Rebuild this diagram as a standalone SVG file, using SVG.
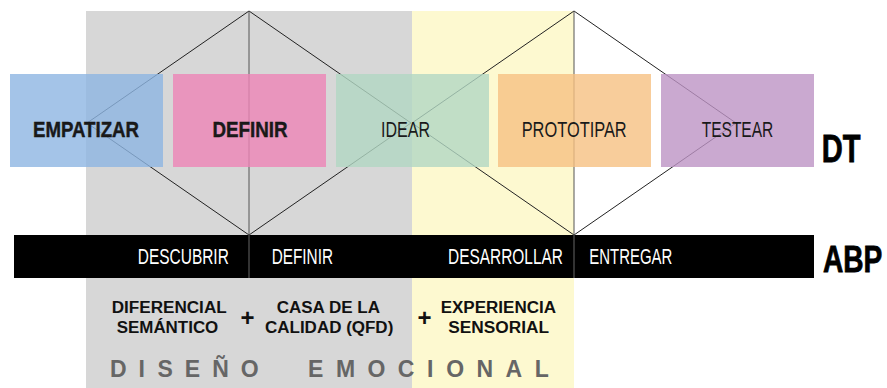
<svg xmlns="http://www.w3.org/2000/svg" width="887" height="388" viewBox="0 0 887 388">
<style>
.box{fill-opacity:0.8}
.lbl{font-family:"Liberation Sans Narrow","Liberation Sans",Arial,sans-serif;font-size:22px;fill:#1a1a1a}
.b{font-weight:bold;stroke:#111;stroke-width:0.4}
.bar{font-family:"Liberation Sans",Arial,sans-serif;font-size:22px;fill:#ffffff}
.big{font-family:"Liberation Sans",Arial,sans-serif;font-weight:bold;fill:#000;stroke:#000;stroke-width:0.8}
.tool{font-family:"Liberation Sans",Arial,sans-serif;font-size:16px;font-weight:bold;fill:#111}
.plus{font-family:"Liberation Sans",Arial,sans-serif;font-size:24px;font-weight:bold;fill:#111;text-anchor:middle}
.de{font-family:"Liberation Sans",Arial,sans-serif;font-size:23px;font-weight:bold;fill:#666}
.dia{fill:none;stroke:#222;stroke-width:1}
.vert{stroke:#555;stroke-width:1}
</style>
<rect width="887" height="388" fill="#ffffff"/>
<g id="zona-diseno-emocional">
<rect x="86" y="11" width="326" height="377" fill="#d7d7d7"/>
<rect x="412" y="11" width="162" height="377" fill="#fdf9d0"/>
</g>
<g id="connectors">
<polygon class="dia" points="249,11 411,123 249,235 87,123"/>
<polygon class="dia" points="574,11 736,123 574,235 412,123"/>
<line class="vert" x1="249" y1="11" x2="249" y2="235"/>
<line class="vert" x1="574" y1="11" x2="574" y2="235"/>
</g>
<g id="empatizar">
<rect class="box" x="10" y="74" width="153" height="93" fill="#8db5e2"/>
<text class="lbl b" x="33" y="137" textLength="106" lengthAdjust="spacingAndGlyphs">EMPATIZAR</text>
</g>
<g id="definir">
<rect class="box" x="173" y="74" width="153" height="93" fill="#ed85b6"/>
<text class="lbl b" x="212.5" y="137" textLength="75" lengthAdjust="spacingAndGlyphs">DEFINIR</text>
</g>
<g id="idear">
<rect class="box" x="336" y="74" width="153" height="93" fill="#b2d7c3"/>
<text class="lbl" x="381" y="137" textLength="49" lengthAdjust="spacingAndGlyphs">IDEAR</text>
</g>
<g id="prototipar">
<rect class="box" x="498" y="74" width="153" height="93" fill="#f6c182"/>
<text class="lbl" x="521.7" y="137" textLength="105" lengthAdjust="spacingAndGlyphs">PROTOTIPAR</text>
</g>
<g id="testear">
<rect class="box" x="661" y="74" width="153" height="93" fill="#bd94c4"/>
<text class="lbl" x="701.7" y="137" textLength="71.6" lengthAdjust="spacingAndGlyphs">TESTEAR</text>
</g>
<g id="dt">
<text class="big" transform="translate(821.7,162) scale(0.737,1)" x="0" y="0" font-size="39.5">DT</text>
</g>
<g id="abp-bar">
<rect x="14" y="235" width="800" height="43" fill="#000000"/>
<line x1="249" y1="235" x2="249" y2="278" stroke="#666" stroke-width="1"/>
<line x1="574" y1="235" x2="574" y2="278" stroke="#666" stroke-width="1"/>
<text class="bar" transform="translate(137.8,264) scale(0.7,1)" x="0" y="0" textLength="130" lengthAdjust="spacingAndGlyphs">DESCUBRIR</text>
<text class="bar" transform="translate(271.7,264) scale(0.7,1)" x="0" y="0" textLength="87.6" lengthAdjust="spacingAndGlyphs">DEFINIR</text>
<text class="bar" transform="translate(448,264) scale(0.7,1)" x="0" y="0" textLength="164.3" lengthAdjust="spacingAndGlyphs">DESARROLLAR</text>
<text class="bar" transform="translate(589.3,264) scale(0.7,1)" x="0" y="0" textLength="118.6" lengthAdjust="spacingAndGlyphs">ENTREGAR</text>
</g>
<g id="abp">
<text class="big" transform="translate(823,272) scale(0.75,1)" x="0" y="0" font-size="37.5">ABP</text>
</g>
<g id="diferencial-semantico">
<text class="tool" x="111.7" y="313" textLength="115" lengthAdjust="spacingAndGlyphs">DIFERENCIAL</text>
<text class="tool" x="116.7" y="333" textLength="101.6" lengthAdjust="spacingAndGlyphs">SEMÁNTICO</text>
</g>
<g id="plus-1"><text class="plus" x="247.5" y="325.5">+</text></g>
<g id="casa-calidad">
<text class="tool" x="276.7" y="313" textLength="103.3" lengthAdjust="spacingAndGlyphs">CASA DE LA</text>
<text class="tool" x="265" y="333" textLength="128.3" lengthAdjust="spacingAndGlyphs">CALIDAD (QFD)</text>
</g>
<g id="plus-2"><text class="plus" x="424.5" y="325.5">+</text></g>
<g id="experiencia-sensorial">
<text class="tool" x="440.7" y="313" textLength="115.3" lengthAdjust="spacingAndGlyphs">EXPERIENCIA</text>
<text class="tool" x="448.3" y="333" textLength="100.7" lengthAdjust="spacingAndGlyphs">SENSORIAL</text>
</g>
<g id="diseno-emocional">
<text class="de" x="110 138.6 157.4 184.8 212.2 240.8 280 308 336 367.5 397.8 426.9 446.2 476.5 505.6 534.7" y="377">DISEÑO EMOCIONAL</text>
</g>
</svg>
